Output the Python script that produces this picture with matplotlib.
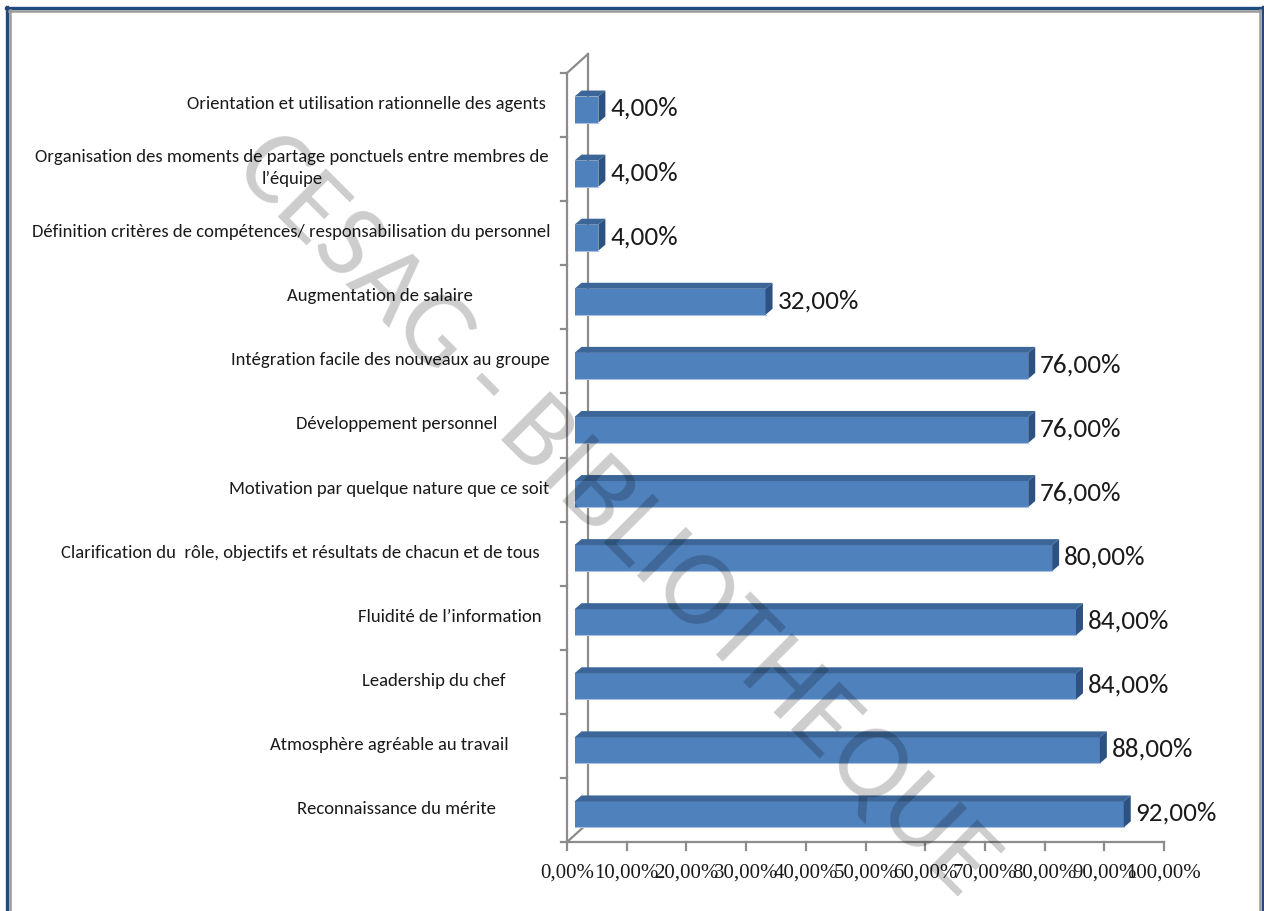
import matplotlib
matplotlib.use("Agg")
import matplotlib.pyplot as plt
from matplotlib.patches import Polygon, Rectangle
from matplotlib.lines import Line2D

# ---- data -------------------------------------------------------------
categories = [
    "Reconnaissance du mérite",
    "Atmosphère agréable au travail",
    "Leadership du chef",
    "Fluidité de l’information",
    "Clarification du  rôle, objectifs et résultats de chacun et de tous",
    "Motivation par quelque nature que ce soit",
    "Développement personnel",
    "Intégration facile des nouveaux au groupe",
    "Augmentation de salaire",
    "Définition critères de compétences/ responsabilisation du personnel",
    "Organisation des moments de partage ponctuels entre membres de\nl’équipe",
    "Orientation et utilisation rationnelle des agents",
]
values = [92, 88, 84, 84, 80, 76, 76, 76, 32, 4, 4, 4]
x_ticks = [0, 10, 20, 30, 40, 50, 60, 70, 80, 90, 100]
x_tick_labels = ["%d,00%%" % t for t in x_ticks]

# right edge (figure pixels) of each category label
label_right_px = [496, 509, 505, 542, 540, 549, 497, 550, 473, 551, 549, 546]

plt.rcParams["font.family"] = ["Carlito", "DejaVu Sans"]
serif = ["Liberation Serif", "DejaVu Serif"]

W, H = 1264, 911
fig = plt.figure(figsize=(W / 100, H / 100), dpi=100)

# plot area in pixels
X0, X1 = 567, 1164      # 0 % and 100 %
Y0, Y1 = 842, 73        # floor and top of the front wall
ax = fig.add_axes([X0 / W, (H - Y0) / H, (X1 - X0) / W, (Y0 - Y1) / H])
ax.set_xlim(0, 100)
ax.set_ylim(0, len(categories))
ax.axis("off")

px_x = 100 / (X1 - X0)              # data units per pixel, x
px_y = len(categories) / (Y0 - Y1)  # data units per pixel, y

grey = "#8c8c8c"
lw = 1.6
txt = "#1a1a1a"

# walls: front edge, back edge and the diagonals joining them
wx, wy = 21 * px_x, 19 * px_y
n = len(categories)
for xs, ys in [([0, 0], [0, n]), ([wx, wx], [wy, n + wy]),
               ([0, wx], [n, n + wy]), ([0, wx], [0, wy]), ([0, 100], [0, 0])]:
    ax.add_line(Line2D(xs, ys, color=grey, lw=lw, clip_on=False, zorder=1))
for k in range(n + 1):
    ax.add_line(Line2D([-6 * px_x, 0], [k, k], color=grey, lw=lw, clip_on=False, zorder=1))
for t, lab in zip(x_ticks, x_tick_labels):
    ax.add_line(Line2D([t, t], [0, -8 * px_y], color=grey, lw=lw, clip_on=False, zorder=1))
    ax.text(t, -31 * px_y, lab, ha="center", va="center", fontsize=15,
            family=serif, color=txt, clip_on=False)

# 3-D bars
front_c, top_c, side_c, edge_c = "#4F81BD", "#3C6697", "#2D5182", "#A9C1E2"
bx0 = 7.5 * px_x            # bar starts a little behind the front edge
bh = 26 * px_y              # bar thickness
ddx, ddy = 7 * px_x, 6 * px_y
for i, v in enumerate(values):
    yc = i + 0.5 - 4.5 * px_y
    yb, yt = yc - bh / 2, yc + bh / 2
    xr = bx0 + v
    ax.add_patch(Rectangle((bx0, yb), v, bh, facecolor=front_c, edgecolor="none", zorder=3))
    ax.add_line(Line2D([bx0, xr], [yb, yb], color=edge_c, lw=0.8, zorder=3.5))
    ax.add_patch(Polygon([(bx0, yt), (xr, yt), (xr + ddx, yt + ddy), (bx0 + ddx, yt + ddy)],
                         closed=True, facecolor=top_c, edgecolor="none", zorder=3))
    ax.add_patch(Polygon([(xr, yb), (xr + ddx, yb + ddy), (xr + ddx, yt + ddy), (xr, yt)],
                         closed=True, facecolor=side_c, edgecolor="none", zorder=3))
    ax.text(xr + ddx + 5 * px_x, yc + 1 * px_y, "%d,00%%" % v, ha="left", va="center",
            fontsize=19.5, color=txt, zorder=4)

# category labels, sized so the longest single line spans its measured width
renderer = fig.canvas.get_renderer()
probe = fig.text(0, 0, categories[9], fontsize=12)
w12 = probe.get_window_extent(renderer).width
probe.remove()
cat_fs = 12 * (551 - 32) / w12
for i, (cat, rx) in enumerate(zip(categories, label_right_px)):
    yc = i + 0.5 + 1 * px_y
    ax.text((rx - X0) * px_x, yc, cat, ha="right", va="center", multialignment="center",
            fontsize=cat_fs, color=txt, clip_on=False, linespacing=1.5)

# watermark
fig.text(616 / W, 1 - 515 / H, "CESAG - BIBLIOTHEQUE", rotation=-45,
         rotation_mode="anchor", ha="center", va="center", fontsize=78,
         color="black", alpha=0.2, zorder=10)

# frame
blue, fgrey = "#1F4A7E", "#9B9B9B"
def hline(x0, x1, y, c, w):
    fig.add_artist(Line2D([x0 / W, x1 / W], [1 - y / H, 1 - y / H], color=c, lw=w))
def vline(x, y0, y1, c, w):
    fig.add_artist(Line2D([x / W, x / W], [1 - y0 / H, 1 - y1 / H], color=c, lw=w))
hline(6, 1263, 8, blue, 2.4)
vline(7, 7, 911, blue, 2.4)
vline(1262.5, 7, 911, blue, 2.4)
hline(9, 1260, 11, fgrey, 1.8)
vline(10, 10, 911, fgrey, 1.8)
vline(1259.5, 10, 911, fgrey, 1.8)

fig.savefig("out.png", dpi=100)
